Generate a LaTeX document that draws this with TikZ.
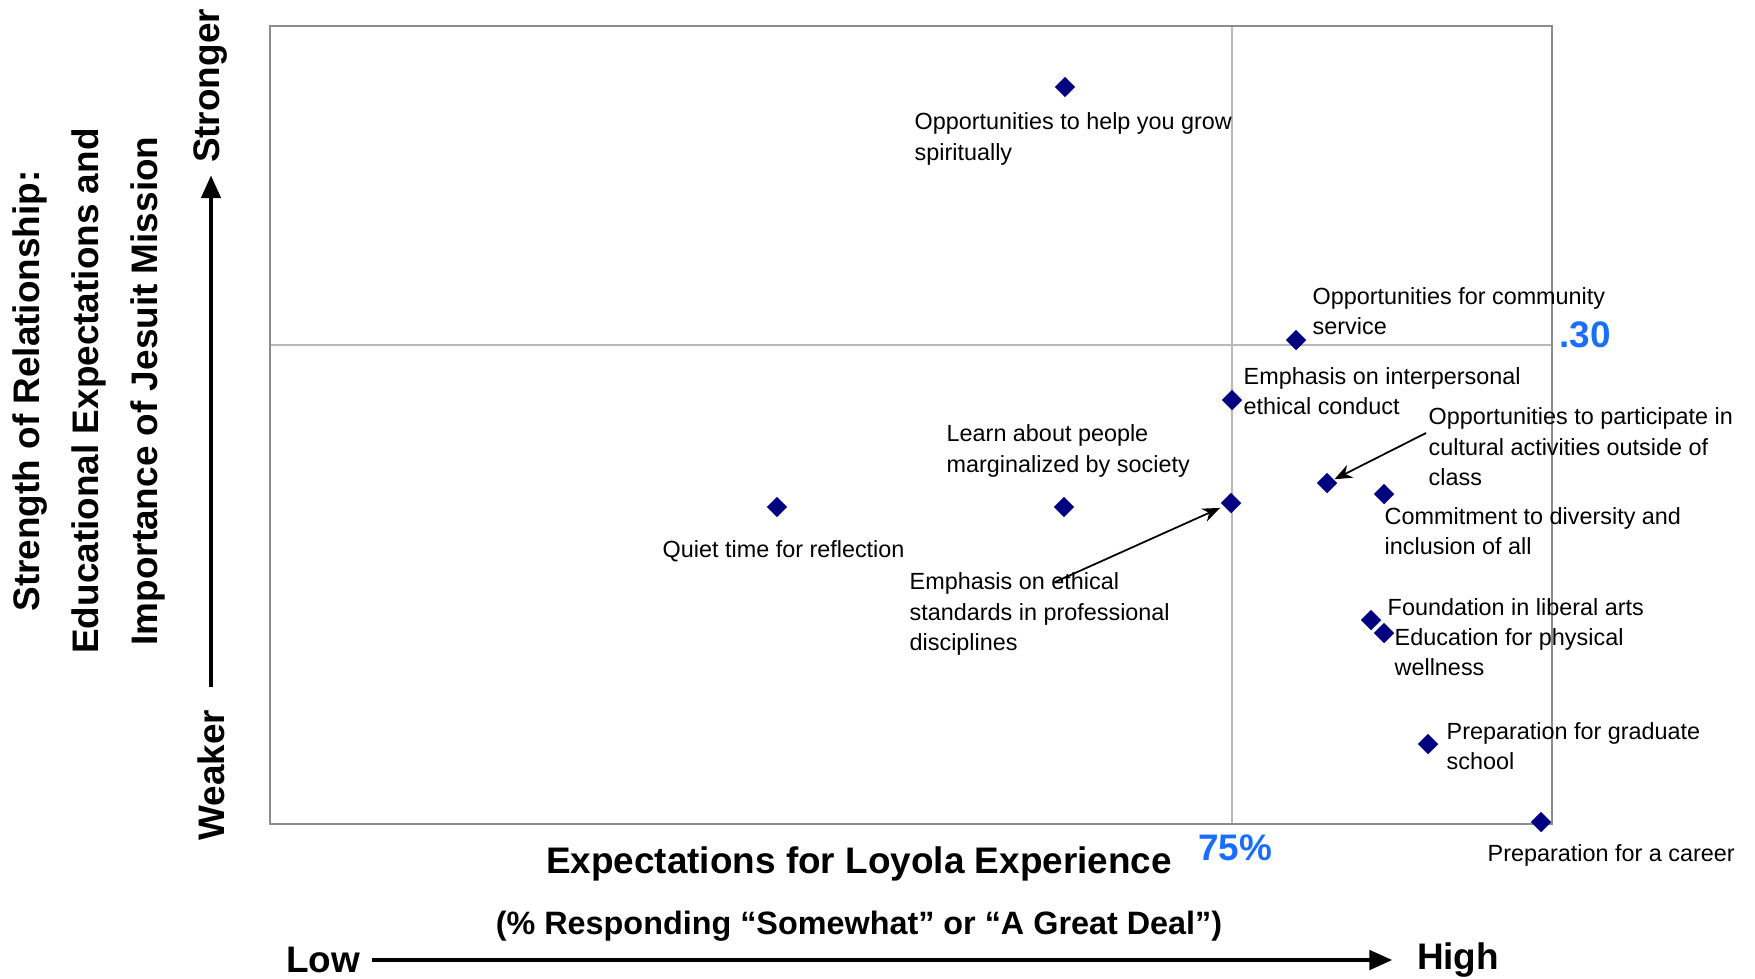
\documentclass[tikz,border=0pt]{standalone}
\usepackage{fontspec}
\setmainfont{Liberation Sans}
\usepackage{tikz}
\usetikzlibrary{
    arrows.meta,
    shapes.geometric
}
\tikzset{
    % Colors
    point color/.style={blue!50!black},
    value color/.style={color={rgb,255:red,26;green,110;blue,255}},
    frame color/.style={black!45},
    grid color/.style={black!28},
    %
    % Frame and quadrant lines
    plot frame/.style={frame color,line width=.7pt},
    grid line/.style={grid color,line width=.35pt},
    %
    % Nodes and points
    data point/.style={diamond,point color,fill,inner sep=0pt,minimum size=.21cm},
    item label/.style={anchor=west,align=left,inner sep=0pt,yshift=-.03cm},
    axis title/.style={font=\fontsize{10.5}{12}\selectfont\bfseries},
    axis note/.style={font=\fontsize{9.2}{11}\selectfont\bfseries},
    value mark/.style={value color,font=\fontsize{10.5}{12}\selectfont\bfseries},
    %
    % Arrows
    arrow tip/.tip={Stealth[length=5pt,width=4pt]},
    arr/.style={->,>={arrow tip},line width=.5pt},
    axis arrow/.style={-{Triangle[length=6.5pt,width=5.5pt]},line width=1.1pt}
}
\tikzstyle{every node}=[font=\fontsize{6.65}{8.7}\selectfont]

\begin{document}
\begin{tikzpicture}[x=.01cm,y=-.01cm]
    \useasboundingbox (0,0) rectangle (1755,978);
    \draw[grid line] (1232,26) -- (1232,824) (270,345) -- (1552,345);
    \draw[plot frame] (270,26) rectangle (1552,824);
    \foreach \name/\x/\y in {grow/1065/87,service/1296/340,interpersonal/1232/400,
            cultural/1327/483,diversity/1384/494,standards/1231/503,marginalized/1064/507,
            quiet/777/507,liberal/1371/620,wellness/1384/633,graduate/1428/744,career/1541/822}{
        \node[data point] (\name) at (\x,\y) {};
    }
    % labels of the points
    \node[item label] (grow label) at (914,136) {Opportunities to help you grow\\spiritually};
    \node[item label] (service label) at (1312,308) {Opportunities for community\\service};
    \node[item label] (interpersonal label) at (1243,388) {Emphasis on interpersonal\\ethical conduct};
    \node[item label] (cultural label) at (1428,444) {Opportunities to participate in\\cultural activities outside of\\class};
    \node[item label] (diversity label) at (1384,528) {Commitment to diversity and\\inclusion of all};
    \node[item label] (standards label) at (909,611) {Emphasis on ethical\\standards in professional\\disciplines};
    \node[item label] (marginalized label) at (946,448) {Learn about people\\marginalized by society};
    \node[item label] (quiet label) at (662,548) {Quiet time for reflection};
    \node[item label] (liberal label) at (1387,604) {Foundation in liberal arts};
    \node[item label] (wellness label) at (1394,649) {Education for physical\\wellness};
    \node[item label] (graduate label) at (1446,743) {Preparation for graduate\\school};
    \node[item label] (career label) at (1487,852) {Preparation for a career};
    \coordinate (cultural tail) at (1426,433);
    \coordinate (standards tail) at (1055,582);
    \draw[arr] (cultural tail) -- (cultural);
    \draw[arr,shorten >=1pt] (standards tail) -- (standards);
    % cut values
    \node[value mark] (cut y) at (1585,335) {.30};
    \node[value mark] (cut x) at (1235,848) {75\%};
    % axes
    \node[axis title] (x title) at (859,864) {Expectations for Loyola Experience};
    \node[axis note] (x note) at (859,926) {(\% Responding “Somewhat” or “A Great Deal”)};
    \node[axis title] (low) at (323,960) {Low};
    \node[axis title] (high) at (1458,960) {High};
    \draw[axis arrow,shorten >=3.5pt] (low) -- (high);
    \node[axis title,rotate=90] (y title a) at (30,391) {Strength of Relationship:};
    \node[axis title,rotate=90] (y title b) at (89,391) {Educational Expectations and};
    \node[axis title,rotate=90] (y title c) at (148,391) {Importance of Jesuit Mission};
    \node[axis title,rotate=90] (weaker) at (211,775) {Weaker};
    \node[axis title,rotate=90] (stronger) at (211,86) {Stronger};
    \draw[axis arrow,shorten <=3pt] (weaker) -- (stronger);
\end{tikzpicture}
\end{document}
